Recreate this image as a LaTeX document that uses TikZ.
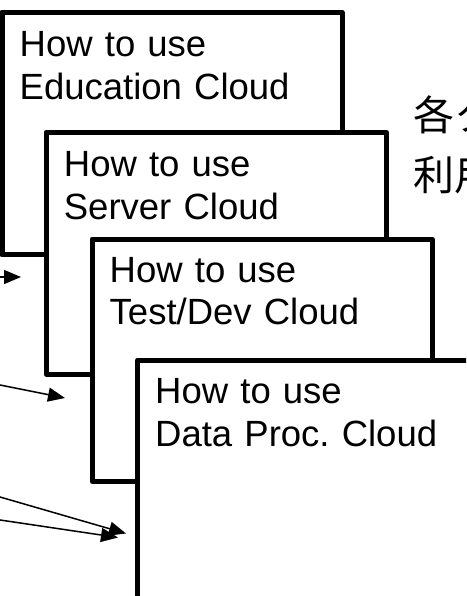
\documentclass[tikz,border=0pt]{standalone}
\usepackage{fontspec}
\setmainfont{Liberation Sans}
\newfontfamily\cjk{Noto Sans CJK JP}
\usetikzlibrary{arrows.meta}
\frenchspacing
\begin{document}
\begin{tikzpicture}[x=1pt,y=-1pt,
  card/.style={draw=black, fill=white, line width=5pt, line join=round, rectangle,
    inner sep=0pt, anchor=north west, minimum width=340pt, minimum height=242pt},
  cardtext/.style={anchor=base west, inner sep=0pt, text width=320pt, align=left,
    font=\fontsize{36.5}{42.5}\selectfont},
  jptext/.style={anchor=base west, inner sep=0pt, text width=200pt, align=left,
    font=\cjk\fontsize{41}{60}\selectfont},
  ptr/.style={line width=1.5pt, -{Triangle[length=17pt,width=14pt]}}]
\useasboundingbox (0,0) rectangle (466,596);
\clip (0,0) rectangle (466,596);
% Japanese heading
\node[jptext] (jp) at (413,131) {各クラウドの\\利用方法};
% cards
\node[card] (b1) at (-0.5,10) {};
\node[cardtext] (t1) at ([shift={(20,47)}]b1.north west) {How to use\\Education Cloud};
\node[card] (b2) at (43.7,129.7) {};
\node[cardtext] (t2) at ([shift={(20,47)}]b2.north west) {How to use\\Server Cloud};
\node[card] (b3) at (89.5,236.5) {};
\node[cardtext] (t3) at ([shift={(20,45.5)}]b3.north west) {How to use\\Test/Dev Cloud};
\node[card] (b4) at (135,357.5) {};
\node[cardtext] (t4) at ([shift={(20,46)}]b4.north west) {How to use\\Data Proc. Cloud};
% arrows coming from the left
\coordinate (s1) at (-10,277);
\coordinate (e1) at (21,277);
\coordinate (s2) at (-10,383);
\coordinate (e2) at (65,398);
\coordinate (s3) at (-10,494.1);
\coordinate (e3) at (126,533.5);
\coordinate (s4) at (-10,518.5);
\coordinate (e4) at (118,537.5);
\draw[ptr] (s1) -- (e1);
\draw[ptr] (s2) -- (e2);
\draw[ptr] (s3) -- (e3);
\draw[ptr] (s4) -- (e4);
\end{tikzpicture}
\end{document}
